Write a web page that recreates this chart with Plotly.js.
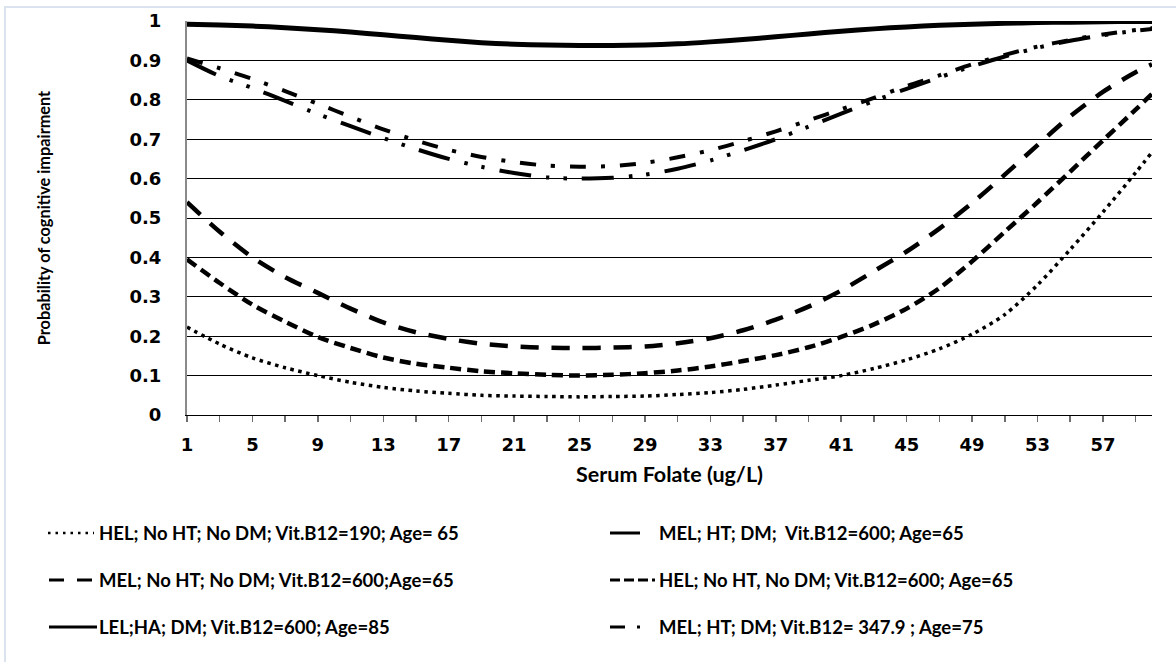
<!DOCTYPE html>
<html>
<head>
<meta charset="utf-8">
<script src="https://cdn.plot.ly/plotly-3.0.1.min.js"></script>
<style>
  html, body { margin: 0; padding: 0; background: #ffffff; }
  #chart { width: 1176px; height: 662px; }
</style>
</head>
<body>
<div id="chart"></div>
<script>
// ---- Data ----
const serumFolate = [1,3,5,7,9,11,13,15,17,19,21,23,25,27,29,31,33,35,37,39,41,43,45,47,49,51,53,55,57,59,60];

const helB12_190_age65 = [0.223,0.18,0.145,0.12,0.10,0.083,0.07,0.061,0.055,0.05,0.048,0.047,0.046,0.047,0.048,0.052,0.057,0.065,0.076,0.088,0.10,0.118,0.14,0.168,0.205,0.255,0.33,0.42,0.515,0.615,0.667];
const lelHaDm_age85 = [0.992,0.99,0.987,0.983,0.978,0.972,0.965,0.958,0.951,0.945,0.941,0.939,0.938,0.938,0.939,0.942,0.947,0.953,0.96,0.967,0.974,0.98,0.985,0.989,0.992,0.994,0.996,0.997,0.998,0.999,0.999];
const melNoHtNoDm_age65 = [0.54,0.465,0.40,0.35,0.31,0.27,0.235,0.21,0.193,0.181,0.174,0.171,0.17,0.171,0.174,0.182,0.195,0.215,0.242,0.275,0.316,0.365,0.415,0.473,0.538,0.61,0.685,0.758,0.82,0.87,0.89];
const helB12_600_age65 = [0.395,0.335,0.28,0.237,0.198,0.17,0.146,0.13,0.12,0.111,0.106,0.102,0.10,0.102,0.106,0.113,0.123,0.137,0.152,0.172,0.198,0.23,0.27,0.322,0.39,0.465,0.54,0.618,0.697,0.775,0.815];
const melHtDm_600_age65 = [0.90,0.86,0.83,0.797,0.764,0.733,0.703,0.675,0.65,0.63,0.614,0.603,0.60,0.602,0.61,0.625,0.646,0.672,0.70,0.732,0.765,0.797,0.828,0.857,0.885,0.91,0.932,0.95,0.964,0.975,0.98];
const melHtDm_347_age75 = [0.905,0.88,0.853,0.822,0.79,0.757,0.725,0.697,0.673,0.655,0.642,0.633,0.63,0.632,0.64,0.654,0.672,0.695,0.72,0.748,0.776,0.805,0.835,0.862,0.89,0.914,0.935,0.952,0.966,0.977,0.982];

// Legend labels, in the reference's row-by-row order
const legendLabels = [
  "HEL; No HT; No DM; Vit.B12=190; Age= 65",
  "MEL; HT; DM;  Vit.B12=600; Age=65",
  "MEL; No HT; No DM; Vit.B12=600;Age=65",
  "HEL; No HT, No DM; Vit.B12=600; Age=65",
  "LEL;HA; DM; Vit.B12=600; Age=85",
  "MEL; HT; DM; Vit.B12= 347.9 ; Age=75"
];

const yTickVals = [0,0.1,0.2,0.3,0.4,0.5,0.6,0.7,0.8,0.9,1];
const yTickText = ["0","0.1","0.2","0.3","0.4","0.5","0.6","0.7","0.8","0.9","1"];

// ---- Geometry helpers (pixel -> paper) ----
const W = 1176, H = 662;
const M = { l: 187, r: 24, t: 21, b: 247 };
const PW = W - M.l - M.r, PH = H - M.t - M.b;
const px = x => (x - M.l) / PW;
const py = y => (H - M.b - y) / PH;

function series(y, name, dash, width) {
  return {
    type: 'scatter', mode: 'lines', x: serumFolate, y: y, name: name,
    line: { color: '#000000', width: width, dash: dash, shape: 'spline', smoothing: 0.8 },
    showlegend: false, hoverinfo: 'x+y+name'
  };
}

const data = [
  series(helB12_190_age65, legendLabels[0], '3.5px,4.5px', 3.5),
  series(lelHaDm_age85, legendLabels[4], 'solid', 5),
  series(melNoHtNoDm_age65, legendLabels[2], '18px,13px', 4.5),
  series(helB12_600_age65, legendLabels[3], '11px,6px', 4.5),
  series(melHtDm_600_age65, legendLabels[1], '32px,15px,3.5px,14px,3.5px,15px', 4),
  series(melHtDm_347_age75, legendLabels[5], '16px,15px,4px,15px', 4)
];

// ---- Manual legend (2 columns x 3 rows) ----
const colText = [97, 657];
const rowY = [533, 580, 627];
const samples = [
  { x0: 48, x1: 94, dash: '2.5px,5px', w: 2.5 },
  { x0: 610, x1: 640, dash: 'solid', w: 3 },
  { x0: 49, x1: 93, dash: '15px,13px', w: 3 },
  { x0: 610, x1: 655, dash: '10px,4px', w: 3 },
  { x0: 49, x1: 97, dash: 'solid', w: 3 },
  { x0: 610, x1: 641, dash: '15px,12px,3px,20px', w: 3 }
];

const annotations = [];
const shapes = [];
legendLabels.forEach((lab, i) => {
  const row = Math.floor(i / 2), col = i % 2;
  annotations.push({
    xref: 'paper', yref: 'paper', x: px(colText[col]), y: py(rowY[row]),
    xanchor: 'left', yanchor: 'middle', showarrow: false, text: lab,
    font: { family: 'Lato, "Open Sans", sans-serif', size: 18.5, color: '#000', weight: 'bold' }
  });
  const s = samples[i];
  shapes.push({
    type: 'line', xref: 'paper', yref: 'paper',
    x0: px(s.x0), x1: px(s.x1), y0: py(rowY[row]), y1: py(rowY[row]),
    line: { color: '#000', width: s.w, dash: s.dash }
  });
});

// light outer frame seen in the reference
shapes.push({
  type: 'rect', xref: 'paper', yref: 'paper', layer: 'below',
  x0: px(5), x1: px(1190), y0: py(700), y1: py(7),
  line: { color: '#dbe4ee', width: 2 }, fillcolor: 'rgba(0,0,0,0)'
});

const tickFont = { family: '"DejaVu Sans", Verdana, sans-serif', size: 18, color: '#000', weight: 'bold' };

const layout = {
  width: W, height: H,
  margin: M,
  paper_bgcolor: '#ffffff', plot_bgcolor: '#ffffff',
  showlegend: false,
  xaxis: {
    range: [1, 60], tickmode: 'linear', tick0: 1, dtick: 4,
    ticks: 'outside', ticklen: 6, tickwidth: 1.5, tickcolor: '#6e6e6e',
    minor: { tickmode: 'linear', tick0: 1, dtick: 2, ticks: 'outside', ticklen: 6, tickwidth: 1.5, tickcolor: '#6e6e6e', showgrid: false },
    showgrid: false, zeroline: false,
    showline: true, linecolor: '#000', linewidth: 1,
    tickfont: tickFont, ticklabelstandoff: 7,
    title: { text: 'Serum Folate (ug/L)', standoff: 13,
      font: { family: 'Lato, "Open Sans", sans-serif', size: 21.5, color: '#000', weight: 'bold' } },
    fixedrange: true
  },
  yaxis: {
    range: [0, 1], tickmode: 'array', tickvals: yTickVals, ticktext: yTickText,
    ticks: '', showgrid: true, gridcolor: '#000', gridwidth: 1,
    zeroline: false, showline: true, linecolor: '#8a8a8a', linewidth: 2,
    tickfont: tickFont, ticklabelstandoff: 20,
    title: { text: 'Probability of cognitive impairment', standoff: 75,
      font: { family: 'Lato, "Open Sans", sans-serif', size: 16.3, color: '#000', weight: 'bold' } },
    fixedrange: true
  },
  annotations: annotations,
  shapes: shapes
};

Plotly.newPlot('chart', data, layout, { displayModeBar: false, staticPlot: true });
</script>
</body>
</html>
